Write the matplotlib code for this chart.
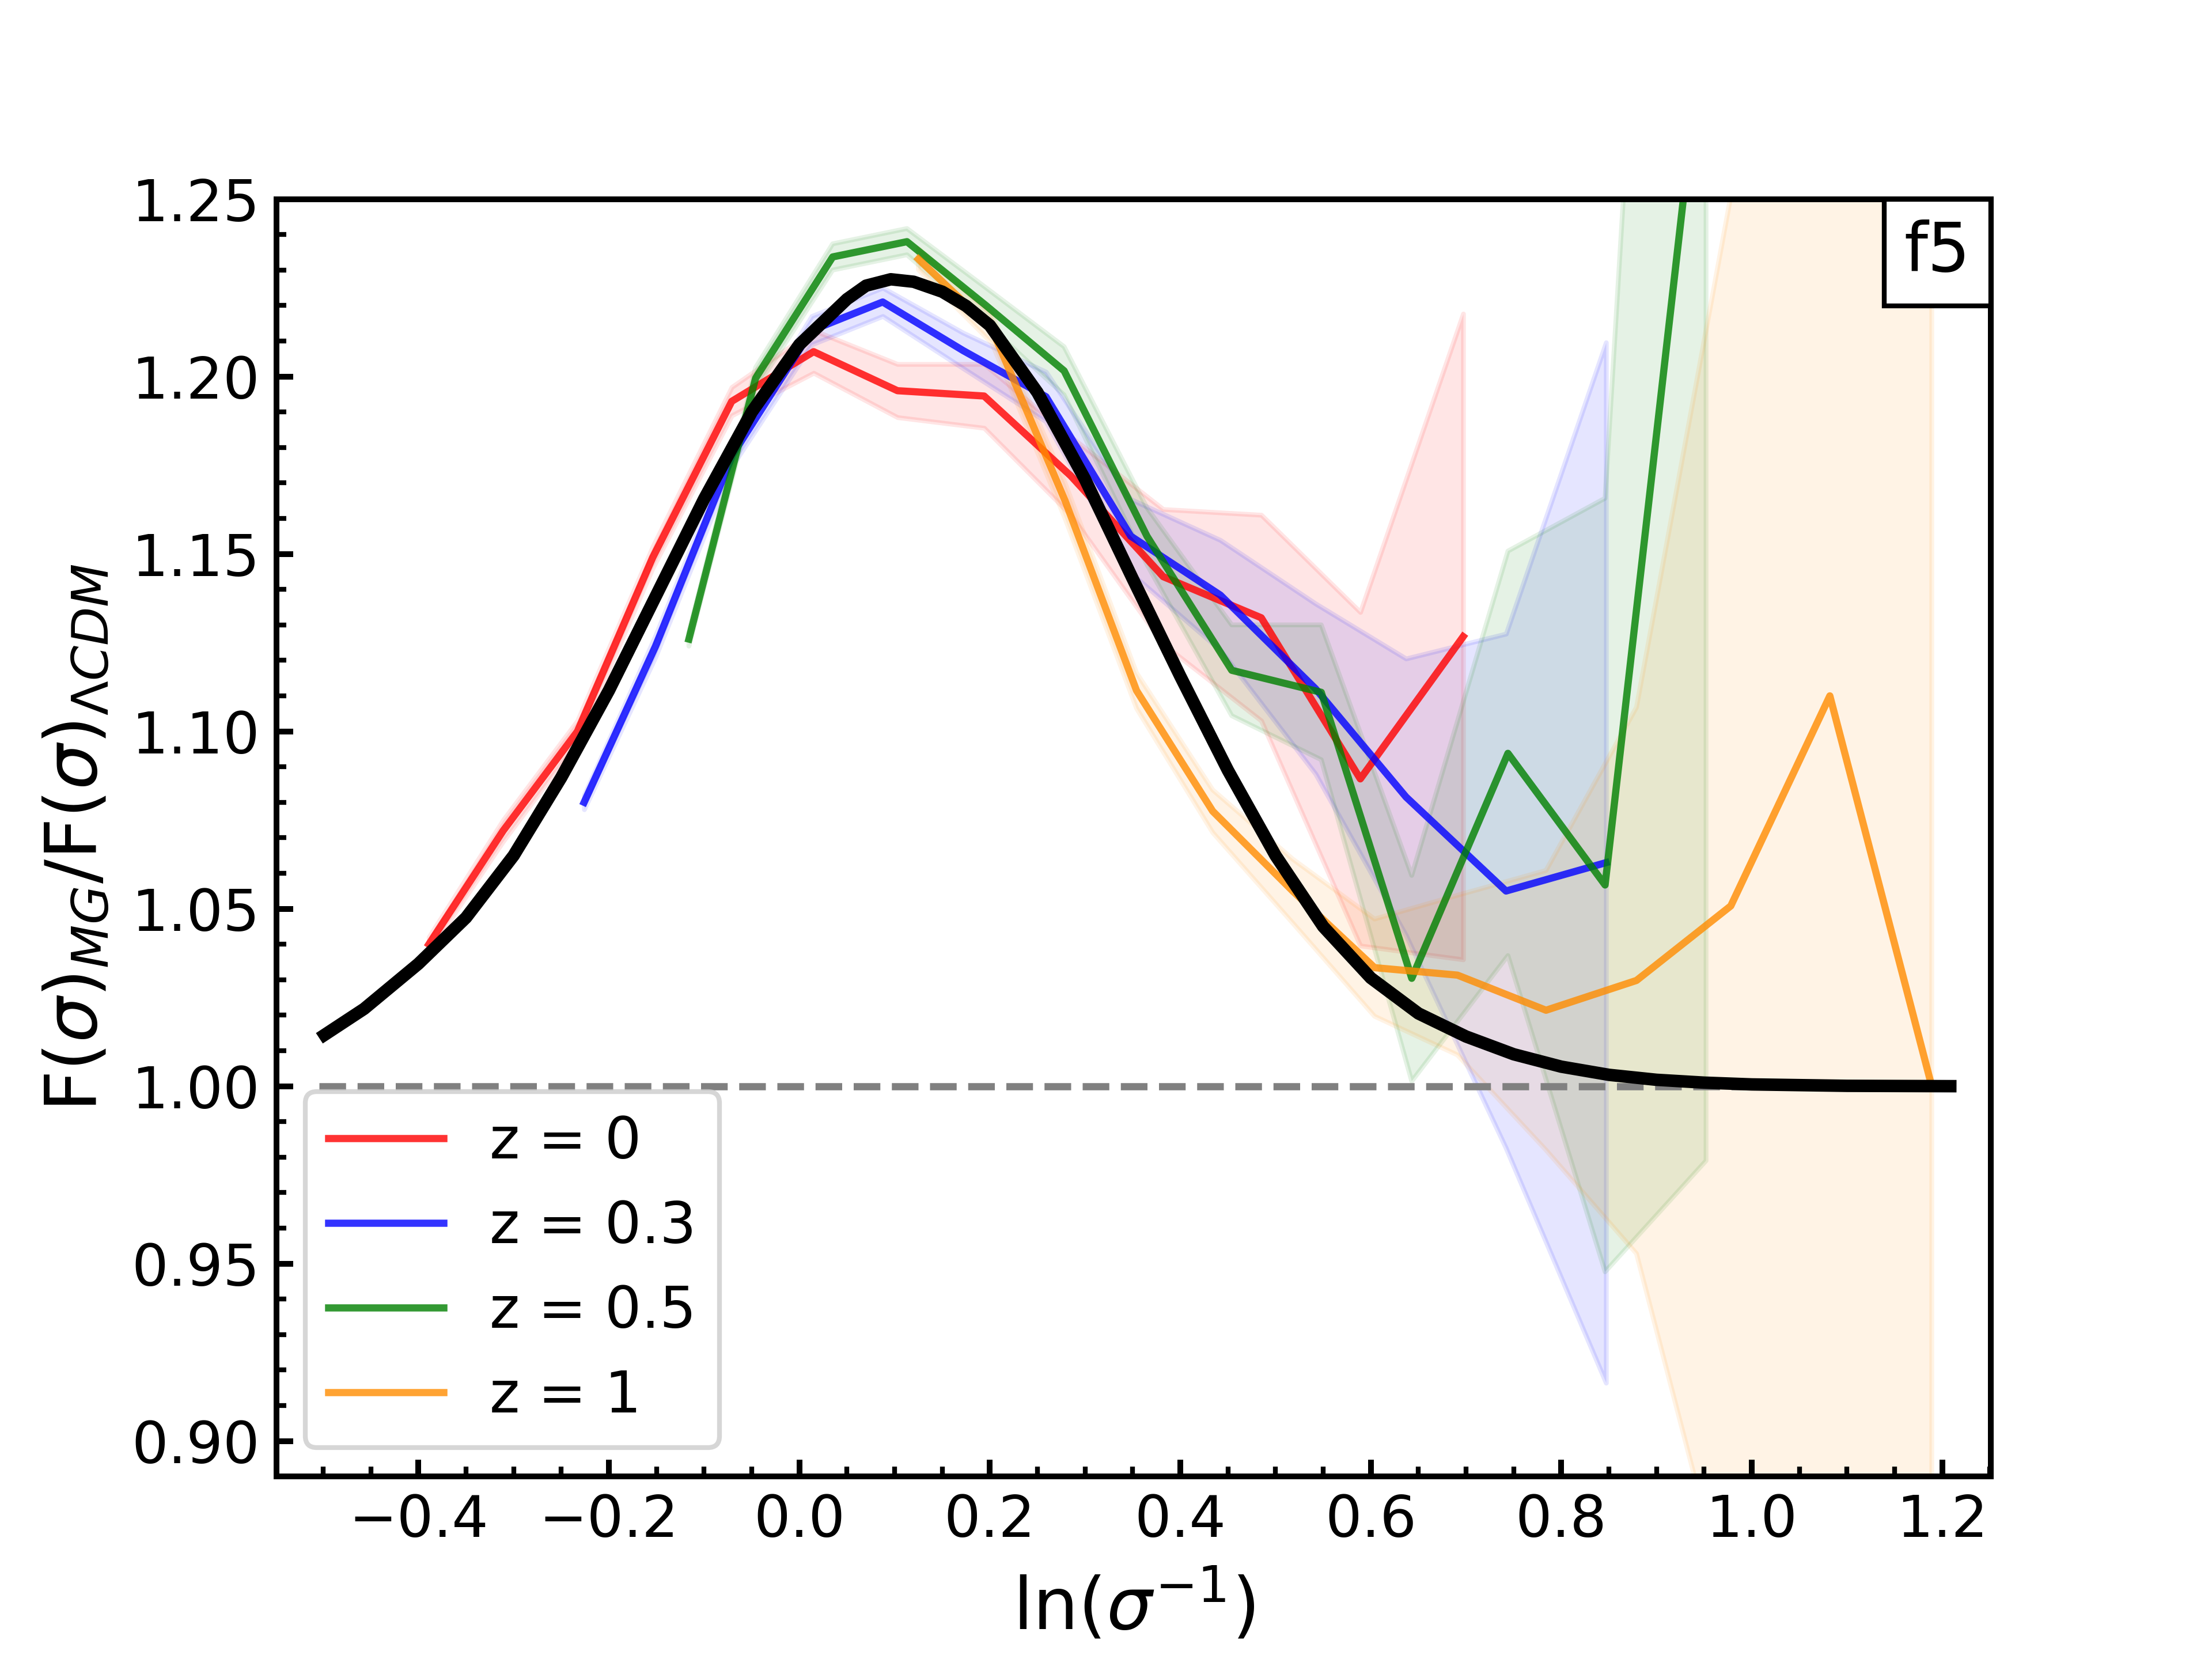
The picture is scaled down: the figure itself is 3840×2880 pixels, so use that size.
import matplotlib
matplotlib.use("Agg")
import matplotlib.pyplot as plt
from matplotlib.offsetbox import AnchoredText
import numpy as np

# ratio F(sigma)_MG / F(sigma)_LCDM for f5
x_z0 = [-0.389, -0.311, -0.233, -0.154, -0.071, 0.015, 0.103, 0.194, 0.285, 0.382, 0.485, 0.589, 0.697]
y_z0 = [1.040, 1.072, 1.100, 1.149, 1.193, 1.207, 1.196, 1.1945, 1.172, 1.1436, 1.132, 1.0866, 1.1267]
e_z0 = [0.002, 0.003, 0.003, 0.003, 0.004, 0.006, 0.0075, 0.009, 0.011, 0.019, 0.029, 0.047, 0.091]

x_z03 = [-0.226, -0.151, -0.07, 0.013, 0.0875, 0.172, 0.259, 0.348, 0.442, 0.542, 0.637, 0.742, 0.847]
y_z03 = [1.080, 1.124, 1.178, 1.213, 1.221, 1.2073, 1.1943, 1.155, 1.1384, 1.112, 1.0815, 1.055, 1.063]
e_z03 = [0.002, 0.003, 0.003, 0.004, 0.004, 0.005, 0.007, 0.0104, 0.0155, 0.024, 0.039, 0.0725, 0.1466]

x_z05 = [-0.116, -0.046, 0.035, 0.113, 0.196, 0.278, 0.365, 0.454, 0.548, 0.643, 0.744, 0.846, 0.952]
y_z05 = [1.126, 1.1995, 1.2337, 1.238, 1.220, 1.2016, 1.155, 1.1172, 1.111, 1.0304, 1.0938, 1.0567, 1.306]
e_z05 = [0.002, 0.003, 0.0037, 0.0037, 0.005, 0.0068, 0.008, 0.0128, 0.019, 0.029, 0.057, 0.109, 0.327]

x_z1 = [0.125, 0.202, 0.279, 0.354, 0.434, 0.518, 0.604, 0.691, 0.784, 0.879, 0.978, 1.082, 1.189]
y_z1 = [1.2331, 1.2135, 1.165, 1.1115, 1.0775, 1.055, 1.0334, 1.0313, 1.0214, 1.0298, 1.0508, 1.110, 1.000]
e_z1 = [0.003, 0.004, 0.005, 0.005, 0.006, 0.009, 0.0137, 0.0225, 0.0394, 0.077, 0.2, 0.35, 0.4]

# fitted curve (black), sampled from the figure
x_fit = [-0.504, -0.457, -0.40, -0.35, -0.30, -0.25, -0.20, -0.15, -0.10, -0.05, 0.00, 0.05,
         0.07, 0.096, 0.12, 0.15, 0.175, 0.20, 0.25, 0.30, 0.35, 0.40, 0.45, 0.50, 0.55, 0.60,
         0.65, 0.70, 0.75, 0.80, 0.85, 0.90, 0.95, 1.00, 1.10, 1.215]
y_fit = [1.0135, 1.0218, 1.0345, 1.0475, 1.0650, 1.0870, 1.1115, 1.1385, 1.1655, 1.1900, 1.2090, 1.2218,
         1.2256, 1.2274, 1.2267, 1.2239, 1.2199, 1.2144, 1.1955, 1.1710, 1.1430, 1.1155, 1.0890, 1.0650,
         1.0450, 1.0305, 1.0205, 1.0140, 1.0090, 1.0055, 1.0032, 1.0018, 1.0010, 1.0005, 1.0001, 1.0000]

labels = ["z = 0", "z = 0.3", "z = 0.5", "z = 1"]
colors = ["red", "blue", "green", "darkorange"]

plt.rcParams['axes.linewidth'] = 1.2

fig, ax = plt.subplots(figsize=(6.4, 4.8), dpi=600)

series = [(x_z0, y_z0, e_z0), (x_z03, y_z03, e_z03), (x_z05, y_z05, e_z05), (x_z1, y_z1, e_z1)]
for (xs, ys, es), lab, c in zip(series, labels, colors):
    xs = np.array(xs)
    ys = np.array(ys)
    es = np.array(es)
    ax.plot(xs, ys, color=c, alpha=0.8, lw=1.5, label=lab)
    ax.fill_between(xs, ys - es, ys + es, color=c, alpha=0.1, lw=1.0)

ax.hlines(1.0, x_fit[0], x_fit[-1], colors="gray", linestyles="--", lw=1.5)
ax.plot(x_fit, y_fit, color="k", lw=2.6, solid_capstyle="butt", solid_joinstyle="round")

ax.set_xlim(-0.549, 1.251)
ax.set_ylim(0.89, 1.25)
ax.minorticks_on()
ax.tick_params(which="both", direction="in", top=False, right=False, labelsize=12)
ax.tick_params(which="major", width=1.2, length=3.5)
ax.tick_params(which="minor", width=1.0, length=2.0)

ax.set_xlabel(r"ln($\sigma^{-1}$)", fontsize=15)
ax.set_ylabel(r"F($\sigma$)$_{MG}$/F($\sigma$)$_{\Lambda CDM}$", fontsize=15)

ax.legend(loc="lower left", fontsize=12)

at = AnchoredText("f5", loc="upper right", borderpad=0, pad=0.3, prop=dict(size=14))
at.patch.set_edgecolor("black")
at.patch.set_linewidth(1.0)
ax.add_artist(at)

plt.savefig("out.png")
